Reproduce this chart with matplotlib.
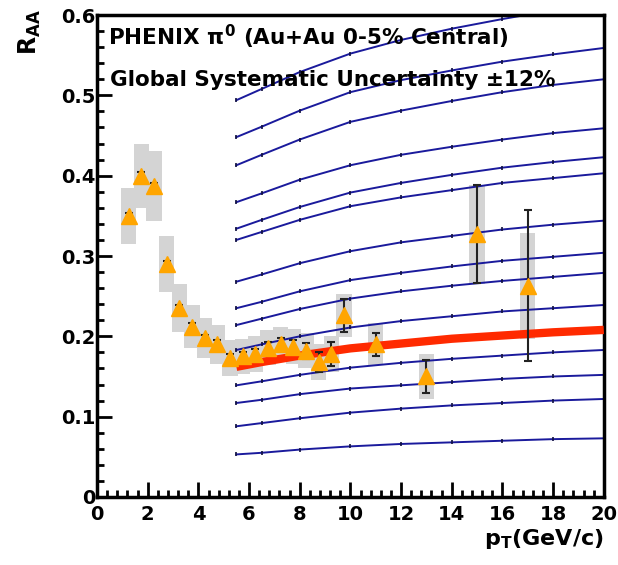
import numpy as np
import matplotlib
matplotlib.use('Agg')
import matplotlib.pyplot as plt
from matplotlib.ticker import MultipleLocator, AutoMinorLocator

plt.rcParams['font.family'] = ['DejaVu Sans']
plt.rcParams['mathtext.fontset'] = 'custom'
plt.rcParams['mathtext.rm'] = 'DejaVu Sans:bold'
plt.rcParams['mathtext.it'] = 'DejaVu Sans:bold'
plt.rcParams['mathtext.bf'] = 'DejaVu Sans:bold'

# PHENIX pi0 RAA, 0-5% central
pt = [1.25, 1.75, 2.25, 2.75, 3.25, 3.75, 4.25, 4.75, 5.25, 5.75, 6.25,
      6.75, 7.25, 7.75, 8.25, 8.75, 9.25, 9.75, 11, 13, 15, 17]
raa = [0.35, 0.40, 0.387, 0.29, 0.235, 0.212, 0.198, 0.19, 0.173, 0.175, 0.178,
       0.186, 0.19, 0.187, 0.182, 0.168, 0.178, 0.226, 0.19, 0.15, 0.327, 0.263]
stat = [0.004, 0.004, 0.004, 0.004, 0.004, 0.004, 0.004, 0.005, 0.005, 0.006, 0.006,
        0.007, 0.008, 0.009, 0.010, 0.012, 0.015, 0.020, 0.014, 0.020, 0.061, 0.094]
syst = [0.035, 0.040, 0.044, 0.035, 0.030, 0.027, 0.025, 0.024, 0.023, 0.022, 0.022,
        0.022, 0.022, 0.022, 0.022, 0.022, 0.022, 0.027, 0.026, 0.028, 0.062, 0.066]

# model curves (blue family), read at these pT values
model_pt = [5.5, 6.5, 8, 10, 12, 14, 16, 18, 20]
model_curves = [
    [0.494, 0.508, 0.529, 0.552, 0.569, 0.583, 0.595, 0.606, 0.615],
    [0.448, 0.461, 0.481, 0.504, 0.519, 0.531, 0.542, 0.551, 0.559],
    [0.413, 0.426, 0.445, 0.467, 0.481, 0.493, 0.504, 0.513, 0.520],
    [0.367, 0.378, 0.395, 0.413, 0.426, 0.436, 0.445, 0.453, 0.459],
    [0.334, 0.345, 0.361, 0.379, 0.391, 0.401, 0.410, 0.417, 0.423],
    [0.320, 0.330, 0.345, 0.362, 0.373, 0.382, 0.391, 0.397, 0.403],
    [0.268, 0.277, 0.291, 0.306, 0.317, 0.325, 0.333, 0.339, 0.344],
    [0.235, 0.243, 0.256, 0.270, 0.279, 0.287, 0.294, 0.299, 0.304],
    [0.214, 0.222, 0.234, 0.247, 0.256, 0.263, 0.269, 0.274, 0.279],
    [0.183, 0.190, 0.200, 0.211, 0.219, 0.225, 0.231, 0.235, 0.239],
    [0.139, 0.144, 0.152, 0.161, 0.167, 0.172, 0.176, 0.180, 0.183],
    [0.117, 0.121, 0.128, 0.135, 0.139, 0.143, 0.147, 0.150, 0.152],
    [0.088, 0.092, 0.098, 0.105, 0.110, 0.114, 0.117, 0.120, 0.122],
    [0.053, 0.055, 0.059, 0.063, 0.066, 0.068, 0.070, 0.072, 0.073],
]
# best fit curve (red)
best_fit = [0.162, 0.168, 0.176, 0.185, 0.191, 0.197, 0.201, 0.205, 0.208]

fig = plt.figure(figsize=(6.18, 5.65), dpi=100)
ax = fig.add_axes([0.157, 0.1204, 0.820, 0.853])

for curve in model_curves:
    ax.plot(model_pt, curve, color='#1a1a9c', lw=1.4, zorder=2,
            marker='|', ms=3, mew=1.2, mec='#101040')

# systematic boxes
low = [r - s for r, s in zip(raa, syst)]
ax.bar(pt, [2 * s for s in syst], bottom=low, width=0.6, color='#d4d4d4',
       edgecolor='none', zorder=1)

ax.plot(model_pt, best_fit, color='#ff2a00', lw=6, solid_capstyle='butt', zorder=3)

ax.errorbar(pt, raa, yerr=stat, fmt='none', ecolor='#222222', elinewidth=1.5,
            capsize=3, capthick=1.5, zorder=4)
ax.plot(pt, raa, ls='none', marker='^', ms=11, color='#ffa500', mec='#ffa500', zorder=5)

ax.set_xlim(0, 20)
ax.set_ylim(0, 0.6)
ax.xaxis.set_major_locator(MultipleLocator(2))
ax.xaxis.set_minor_locator(AutoMinorLocator(5))
ax.yaxis.set_major_locator(MultipleLocator(0.1))
ax.yaxis.set_minor_locator(AutoMinorLocator(5))
ax.set_yticks([0, 0.1, 0.2, 0.3, 0.4, 0.5, 0.6])
ax.set_yticklabels(['0', '0.1', '0.2', '0.3', '0.4', '0.5', '0.6'])

ax.tick_params(which='both', direction='in', top=False, right=False, width=2)
ax.tick_params(which='major', length=11)
ax.tick_params(which='minor', length=5)
ax.tick_params(axis='y', pad=1, labelsize=14)
ax.tick_params(axis='x', pad=6, labelsize=14)
for lab in ax.get_xticklabels() + ax.get_yticklabels():
    lab.set_fontweight('bold')
for sp in ax.spines.values():
    sp.set_linewidth(2.5)

ax.text(0.022, 0.954, r'PHENIX $\pi^{0}$ (Au+Au 0-5% Central)', transform=ax.transAxes,
        ha='left', va='center', fontsize=15.5, fontweight='bold')
ax.text(0.026, 0.865, 'Global Systematic Uncertainty \u00b112%', transform=ax.transAxes,
        ha='left', va='center', fontsize=15.5, fontweight='bold')

ax.text(-0.132, 1.012, r'$\mathbf{R_{AA}}$', transform=ax.transAxes, rotation=90,
        ha='center', va='top', fontsize=17)
ax.text(1.0, -0.062, r'$\mathbf{p_{T}}$(GeV/c)', transform=ax.transAxes,
        ha='right', va='top', fontsize=16, fontweight='bold')

fig.savefig('out.png', dpi=100)
